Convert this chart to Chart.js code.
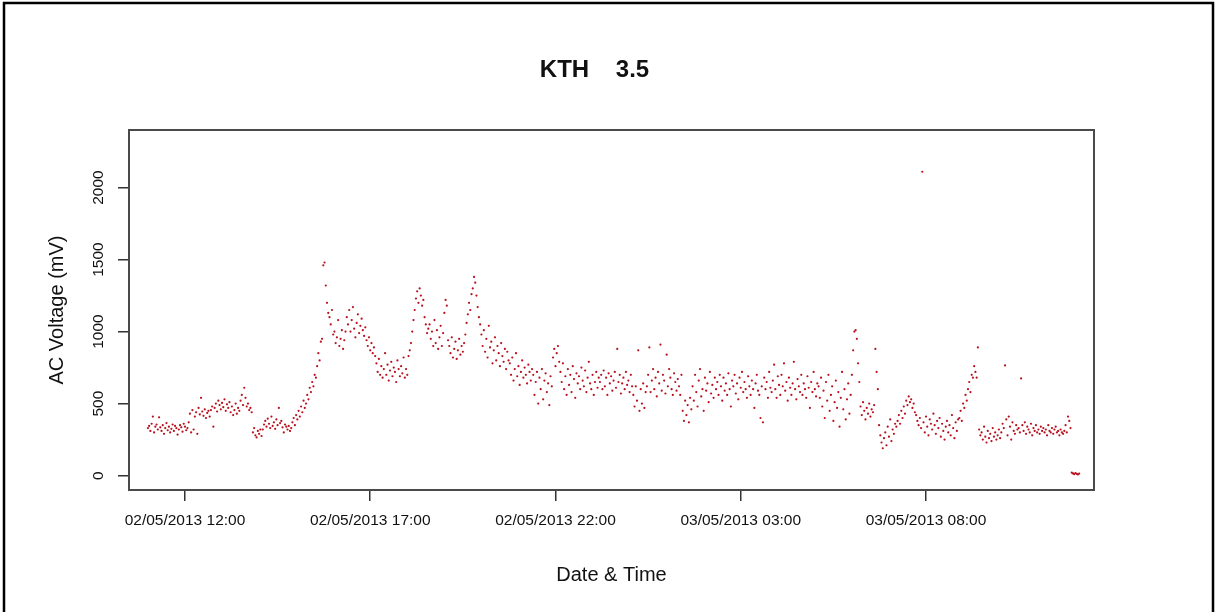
<!DOCTYPE html>
<html>
<head>
<meta charset="utf-8">
<script src="https://cdn.jsdelivr.net/npm/chart.js@4.4.1/dist/chart.umd.min.js"></script>
<style>
  html, body { margin: 0; padding: 0; background: #fff; }
  canvas { display: block; }
</style>
</head>
<body>
<canvas id="kth-chart" width="1217" height="612"></canvas>
<script>
// Messreihe: Start 02/05/2013 11:00, ein Wert alle 2 Minuten
const startHour = 11;
const stepMinutes = 2;

const voltage = [
  // 11:00 - 12:08
  330, 345, 310, 360, 410, 300, 340, 355, 320, 405, 335, 310, 350, 290, 330, 365, 315, 340, 300, 325,
  355, 310, 345, 330, 285, 320, 350, 335, 305, 360, 340, 315, 330, 370,
  430, 300, 455, 320, 410, 440, 290, 470, 425, 540, 445, 415, 460, 400, 435, 450,
  410, 455, 480, 340, 470, 500, 445, 520, 490, 460, 505, 475, 530, 450, 495, 470, 510, 440, 480, 420,
  455, 500, 430, 470, 450, 520, 560, 490, 610, 540, 480, 500, 455, 470, 440,
  300, 330, 280, 265, 310, 290, 320, 275,
  320, 355, 380, 340, 395, 360, 330, 410, 345, 370, 325, 390, 350, 470, 365, 380, 335, 300, 355, 340,
  320, 345, 310, 330,
  // Anstieg ab ca. 15:00
  370, 400, 350, 420, 390, 450, 410, 480, 440, 520, 470, 500, 560, 530, 610, 580, 650, 620, 700, 680,
  760, 850, 800, 930, 950,
  1460, 1480, 1320,
  1200, 1130, 1100, 1050, 1150, 980, 1000, 920, 960, 1080, 900, 950, 1010, 880, 940, 1000,
  1100, 1050, 1150, 1000, 1080, 1170, 1020, 960, 1060, 1120, 990, 1040, 1090, 1010, 970, 1030,
  940, 900, 960, 870, 920, 850, 890, 830,
  780, 720, 810, 700, 760, 680, 740, 850, 700, 770, 660, 730, 790, 690, 750, 720, 650, 800, 740, 690,
  760, 710, 820, 680, 740, 700, 830, 870, 920,
  1000, 1080, 1150, 1230, 1280, 1200, 1300, 1250, 1180, 1220, 1100, 1050, 990, 1020,
  1050, 950, 1000, 900, 1080, 920, 1010, 880, 960, 1040, 900, 990, 1130, 1220, 1180, 940,
  900, 850, 960, 820, 880, 930, 810, 870, 950, 840, 900, 860, 920, 980,
  1060, 1120, 1200, 1150, 1260, 1300, 1380, 1340, 1250, 1170, 1100,
  1050, 980, 900, 1010, 860, 950, 820, 1040, 890, 930, 780, 870, 960, 800, 900, 850, 760, 920, 830, 790,
  880, 740, 860, 800,
  // ab ca. 20:45
  780, 700, 820, 660, 740, 850, 690, 760, 630, 720, 800, 680, 750, 700, 640, 770, 720, 660, 740,
  700, 560, 650, 720, 500, 680, 600, 740, 530, 660, 710, 580, 640, 490, 690, 620,
  820, 880, 760, 850, 900, 790,
  720, 650, 780, 600, 690, 560, 740, 630, 700, 580, 760, 670, 540, 710, 640, 690, 600, 750, 660, 620,
  730, 580, 680, 790, 640, 600, 700, 560, 650, 720, 610, 680,
  650, 700, 600, 730, 620, 680, 560, 710, 640, 690, 590, 660, 720, 610, 880, 650, 700, 570, 640, 680,
  600, 720, 630, 660, 580, 700, 620,
  // 03/05 ab 00:05
  560, 480, 620, 520, 870, 450, 600, 500, 640, 470, 580,
  620, 700, 890, 580, 660, 740, 600, 680, 550, 720, 640, 910, 590, 700, 660, 570, 840, 620, 740, 680,
  600, 560, 710, 650, 590, 670, 620, 560, 700,
  450, 380, 520, 420, 490, 370, 540, 460,
  620, 520, 700, 580, 480, 660, 740, 550, 600, 450, 680, 590, 640, 510, 720, 570, 630, 540, 680,
  600, 650, 560, 700, 620, 520, 680, 590, 640, 560, 710, 600, 480, 660, 620, 700, 570, 640, 530, 680,
  610, 720, 580, 650, 600, 540, 690, 620, 560, 660, 600, 470, 640, 700, 590,
  560, 400, 620, 370, 680, 600, 650, 540, 720, 610, 580, 660, 770, 600, 540, 690, 630, 560, 700, 620,
  780, 590, 650, 520, 680, 610, 560, 640, 790, 600, 530, 670, 620, 580, 700, 560, 640, 600, 540, 690,
  610, 470, 650, 580, 720, 600, 550, 640,
  620, 540, 680, 480, 590, 400, 650, 520, 700, 450, 560, 620, 380, 510, 660, 470, 580, 340, 540, 720,
  460, 600, 390, 530, 640, 430, 560,
  // Spitzen um 06:00
  700, 870, 1000, 1010, 950, 780, 650,
  480, 420, 510, 450, 390, 470, 430, 500, 410, 460, 440, 490,
  880, 720, 600,
  350, 280, 230, 190, 260, 300, 210, 340, 270, 390, 240, 320, 290, 360,
  340, 380, 420, 360, 450, 400, 480, 430, 520, 490, 550, 510, 530, 470, 500, 440,
  420, 380, 350, 400, 330, 2110, 370, 300, 410, 340, 280, 390, 360, 320, 430, 350, 290, 380, 330, 400,
  270, 360, 310, 250, 340, 380, 300, 350, 280, 420, 330, 260, 370, 310, 390,
  400, 450, 380, 500, 470, 560, 520, 600, 650, 580, 700, 680, 760, 720, 680, 890,
  320, 280, 300, 250, 340, 270, 230, 310, 260, 290, 240, 330, 270, 300, 250, 280, 320, 260,
  300, 360, 330, 765, 390, 280, 410, 340, 250, 370, 310, 290, 350, 320,
  330, 300, 675, 350, 310, 370, 290, 340, 320, 300, 360, 280, 330, 310, 350, 300, 320, 290, 340, 310,
  330, 300, 320, 280, 350, 310, 300, 330, 290, 320, 340, 300, 310, 280, 320, 300, 290, 310,
  350, 300, 410, 380, 330,
  // Ende der Messung
  20, 15, 10, 18, 12, 8, 14
];

// Achsen (x in Stunden ab 02/05/2013 00:00)
const xTickHours = [12, 17, 22, 27, 32];
const xTickLabels = ['02/05/2013 12:00', '02/05/2013 17:00', '02/05/2013 22:00', '03/05/2013 03:00', '03/05/2013 08:00'];
const yTickValues = [0, 500, 1000, 1500, 2000];
const yTickLabels = ['0', '500', '1000', '1500', '2000'];

const FONT = '"Liberation Sans", Arial, sans-serif';
Chart.defaults.font.family = FONT;

const points = voltage.map((v, i) => ({ x: startHour + i * stepMinutes / 60, y: v }));

// Rahmen, Plotbox, Titel und gedrehte y-Beschriftung wie in R
const rStyle = {
    id: 'rStyle',
    afterDraw(chart) {
        const { ctx, chartArea: a } = chart;
        const yScale = chart.scales.y;
        ctx.save();

        ctx.strokeStyle = '#000';
        ctx.lineWidth = 2.5;
        ctx.strokeRect(4, 3, 1209, 700);

        ctx.strokeStyle = '#4a4a4a';
        ctx.lineWidth = 2;
        ctx.strokeRect(a.left, a.top, a.right - a.left, a.bottom - a.top);

        ctx.fillStyle = '#111';
        ctx.font = 'bold 24px ' + FONT;
        ctx.textAlign = 'center';
        ctx.textBaseline = 'middle';
        ctx.fillText('KTH    3.5', 594.5, 70);

        ctx.font = '15.5px ' + FONT;
        yTickValues.forEach((v, i) => {
            const py = yScale.getPixelForValue(v);
            ctx.save();
            ctx.translate(99, py);
            ctx.rotate(-Math.PI / 2);
            ctx.fillText(yTickLabels[i], 0, 0);
            ctx.restore();
        });
        ctx.restore();
    }
};

const ctx = document.getElementById('kth-chart').getContext('2d');
new Chart(ctx, {
    type: 'scatter',
    data: {
        datasets: [{
            data: points,
            pointRadius: 1.1,
            pointHoverRadius: 1.1,
            pointBackgroundColor: '#b8101c',
            pointBorderWidth: 0
        }]
    },
    options: {
        responsive: false,
        animation: false,
        events: [],
        layout: { padding: { top: 130, right: 123, left: 0, bottom: 0 } },
        plugins: {
            legend: { display: false },
            tooltip: { enabled: false },
            title: { display: false }
        },
        scales: {
            x: {
                type: 'linear',
                min: 10.489,
                max: 36.534,
                afterBuildTicks: scale => { scale.ticks = xTickHours.map(v => ({ value: v })); },
                afterFit: scale => { scale.height = 122; },
                ticks: {
                    callback: (value, index) => xTickLabels[index],
                    autoSkip: false,
                    maxRotation: 0,
                    padding: 10,
                    color: '#111',
                    font: { size: 15.5 }
                },
                grid: { drawOnChartArea: false, drawTicks: true, tickLength: 11, color: '#333', lineWidth: 1.5 },
                border: { display: false },
                title: {
                    display: true,
                    text: 'Date & Time',
                    color: '#111',
                    font: { size: 20 },
                    padding: { top: 0, bottom: 25 }
                }
            },
            y: {
                type: 'linear',
                min: -100,
                max: 2400,
                afterBuildTicks: scale => { scale.ticks = yTickValues.map(v => ({ value: v })); },
                afterFit: scale => { scale.width = 129; },
                ticks: { display: false },
                grid: { drawOnChartArea: false, drawTicks: true, tickLength: 11, color: '#333', lineWidth: 1.5 },
                border: { display: false },
                title: {
                    display: true,
                    text: 'AC Voltage (mV)',
                    color: '#111',
                    font: { size: 20 },
                    padding: { top: 45, bottom: 0 }
                }
            }
        }
    },
    plugins: [rStyle]
});
</script>
</body>
</html>
